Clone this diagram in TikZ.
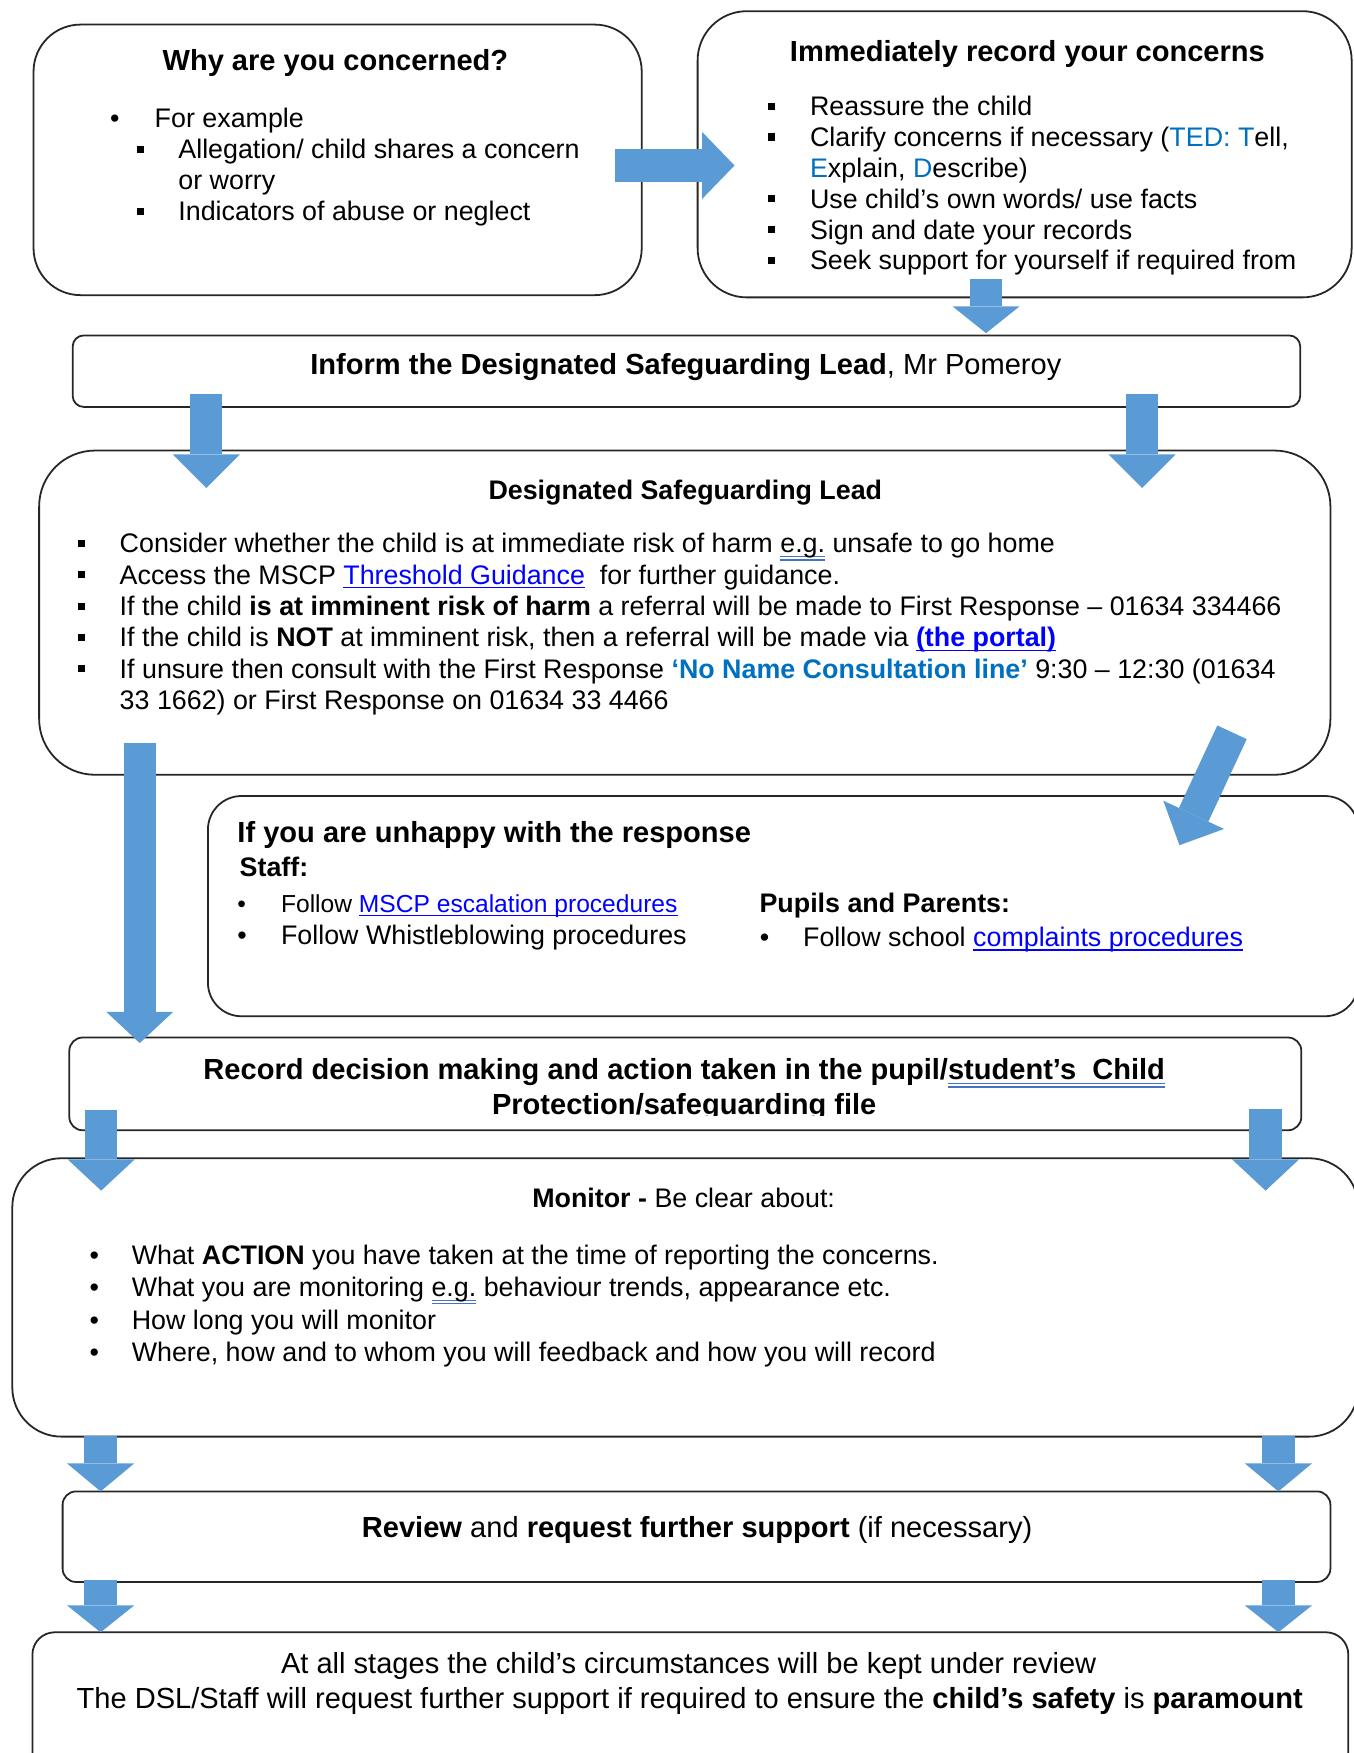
\documentclass[tikz,border=0pt]{standalone}
\usepackage{fontspec}
\setmainfont{Liberation Sans}
\usetikzlibrary{arrows.meta}
\definecolor{arrowblue}{HTML}{5B9BD5}
\definecolor{tedblue}{HTML}{0070C0}
\definecolor{linkblue}{HTML}{0000FF}
\definecolor{gramblue}{HTML}{4472C4}
\newcommand\bsq{\makebox[18.7pt][l]{\rule[2.6pt]{3.2pt}{3.2pt}}}
\newcommand\bdot[1][19pt]{\makebox[#1][l]{\textbullet}}
\newcommand\lnk[1]{{\color{linkblue}\setbox0\hbox{#1}\rlap{\rule[-1.8pt]{\wd0}{0.6pt}}\box0}}
\newcommand\gram[1]{{\setbox0\hbox{#1}\rlap{\color{gramblue}\rule[-2pt]{\wd0}{0.5pt}}\rlap{\color{gramblue}\rule[-3.4pt]{\wd0}{0.5pt}}\box0}}
\tikzset{
  box/.style={draw=black!85, line width=0.8pt, rounded corners=#1, inner sep=0pt, outer sep=0pt},
  box/.default=6pt,
  txt/.style={inner sep=0pt, anchor=base west, align=left, font=\fontsize{12}{13.9}\selectfont},
  head/.style={inner sep=0pt, anchor=base, font=\fontsize{13}{15}\selectfont\bfseries},
  bigarrow/.style={draw=arrowblue, line width=14.5pt, -{Triangle[length=#1, width=30pt, line width=0pt]}},
  bigarrow/.default=14pt
}
\begin{document}
\begin{tikzpicture}[x=0.5pt, y=-0.5pt]
\useasboundingbox (0,0) rectangle (1211,1568);
% boxes
\node[box=21pt, minimum width=272pt, minimum height=121pt] (why) at (302,143) {};
\node[box=22pt, minimum width=292.5pt, minimum height=128pt] (rec) at (916.5,138) {};
\node[box=5pt, minimum width=549pt, minimum height=32pt] (inform) at (614,332) {};
\node[box=25pt, minimum width=577.5pt, minimum height=145pt] (dsl) at (612.5,548) {};
\node[box=15pt, minimum width=514.5pt, minimum height=98.5pt] (unhappy) at (700.5,810.5) {};
\node[box, minimum width=551pt, minimum height=41.5pt] (record) at (613,969.5) {};
\node[box=22pt, minimum width=602pt, minimum height=124.5pt] (monitor) at (613,1160.5) {};
\node[box, minimum width=567pt, minimum height=40.5pt] (review) at (623,1374.5) {};
\node[box=10pt, minimum width=588.5pt, minimum height=70pt] (final) at (617.5,1530) {};
% block arrows
\draw[bigarrow=14.5pt] ([shift={(-12pt,-2.5pt)}]why.east) -- ([shift={(16.5pt,-5pt)}]rec.west);
\draw[bigarrow=12pt] ([shift={(-17.25pt,8pt)}]rec.south) -- ([shift={(134pt,1pt)}]inform.north);
\draw[bigarrow=15pt] ([shift={(-214.75pt,6pt)}]inform.south) -- ([shift={(-214pt,-16.75pt)}]dsl.north);
\draw[bigarrow=15pt] ([shift={(203.75pt,6pt)}]inform.south) -- ([shift={(204.5pt,-16.75pt)}]dsl.north);
\draw[bigarrow] ([shift={(-243.75pt,14pt)}]dsl.south) -- ([shift={(-244pt,-2.5pt)}]record.north);
\draw[bigarrow=15pt] ([shift={(-44pt,19pt)}]dsl.south east) -- ([shift={(-80pt,-22pt)}]unhappy.north east);
\draw[bigarrow] ([shift={(-261.25pt,9pt)}]record.south) -- ([shift={(-261.25pt,-14.5pt)}]monitor.north);
\draw[bigarrow] ([shift={(259.5pt,9.5pt)}]record.south) -- ([shift={(259.5pt,-14.5pt)}]monitor.north);
\draw[bigarrow=12.5pt] ([shift={(-261.5pt,0.5pt)}]monitor.south) -- ([shift={(-266.5pt,0pt)}]review.north);
\draw[bigarrow=12.5pt] ([shift={(265.25pt,0.5pt)}]monitor.south) -- ([shift={(260.25pt,0pt)}]review.north);
\draw[bigarrow=12pt] ([shift={(-266.5pt,1pt)}]review.south) -- ([shift={(-263.75pt,0pt)}]final.north);
\draw[bigarrow=12pt] ([shift={(260.25pt,1pt)}]review.south) -- ([shift={(263pt,0pt)}]final.north);
% texts (multi-line nodes sit on the baseline of their last line)
\node[head] (whyhead) at (300,63) {Why are you concerned?};
\node[txt] (whylist) at (98,197.4) {\bdot[20pt]For example\\
  \hspace*{11.9pt}\bsq Allegation/ child shares a concern\\
  \hspace*{30.6pt}or worry\\
  \hspace*{11.9pt}\bsq Indicators of abuse or neglect};
\node[head] (rechead) at (919,55) {Immediately record your concerns};
\node[txt, font=\fontsize{12}{13.8}\selectfont] (reclist) at (686.8,241.4) {\bsq Reassure the child\\
  \bsq Clarify concerns if necessary ({\color{tedblue}TED: T}ell,\\
  \hspace*{18.7pt}{\color{tedblue}E}xplain, {\color{tedblue}D}escribe)\\
  \bsq Use child’s own words/ use facts\\
  \bsq Sign and date your records\\
  \bsq Seek support for yourself if required from};
\node[head] (infotext) at (613.5,335) {Inform the Designated Safeguarding Lead\mdseries, Mr Pomeroy};
\node[head, font=\fontsize{12}{14}\selectfont\bfseries] (dslhead) at (613,447) {Designated Safeguarding Lead};
\node[txt, font=\fontsize{12}{14}\selectfont] (dsllist) at (69.3,634.6) {\bsq Consider whether the child is at immediate risk of harm \gram{e.g.} unsafe to go home\\
  \bsq Access the MSCP \lnk{Threshold Guidance}\ \ for further guidance.\\
  \bsq If the child \textbf{is at imminent risk of harm} a referral will be made to First Response – 01634 334466\\
  \bsq If the child is \textbf{NOT} at imminent risk, then a referral will be made via \lnk{\textbf{(the portal)}}\\
  \bsq If unsure then consult with the First Response {\bfseries\color{tedblue}‘No Name Consultation line’} 9:30 – 12:30 (01634\\
  \hspace*{18.7pt}33 1662) or First Response on 01634 33 4466};
\node[head, anchor=base west] (unhead) at (212,754) {If you are unhappy with the response};
\node[txt] (staff) at (214,784) {\bfseries Staff:};
\node[txt, font=\fontsize{12}{14.5}\selectfont] (stafflist) at (212,845) {{\fontsize{11}{14.5}\selectfont\bdot[19.5pt]Follow \lnk{MSCP escalation procedures}}\\
  \bdot[19.5pt]Follow Whistleblowing procedures};
\node[txt] (pupils) at (679,816.6) {\bfseries Pupils and Parents:};
\node[txt] (pupilslist) at (679.3,846.6) {\bdot[19.35pt]Follow school \lnk{complaints procedures}};
\begin{scope}
\clip (0,900) rectangle (1211,998);
\node[head] (recdec1) at (612,966) {Record decision making and action taken in the pupil/\gram{student’s\ \ Child}};
\node[head] (recdec2) at (612,997) {Protection/safeguarding file};
\end{scope}
\node[head, font=\fontsize{12}{14}\selectfont] (monhead) at (611.5,1080) {\textbf{Monitor -} Be clear about:};
\node[txt, font=\fontsize{12}{14.5}\selectfont] (monlist) at (79.8,1218) {\bdot[18.85pt]What \textbf{ACTION} you have taken at the time of reporting the concerns.\\
  \bdot[18.85pt]What you are monitoring \gram{e.g.} behaviour trends, appearance etc.\\
  \bdot[18.85pt]How long you will monitor\\
  \bdot[18.85pt]Where, how and to whom you will feedback and how you will record};
\node[head, font=\fontsize{13}{15}\selectfont] (revtext) at (623.5,1375) {\textbf{Review} and \textbf{request further support} (if necessary)};
\node[head, font=\fontsize{13}{15}\selectfont] (fin1) at (616,1497) {At all stages the child’s circumstances will be kept under review};
\node[head, font=\fontsize{13}{15}\selectfont] (fin2) at (617,1528) {The DSL/Staff will request further support if required to ensure the \textbf{child’s safety} is \textbf{paramount}};
\end{tikzpicture}
\end{document}
